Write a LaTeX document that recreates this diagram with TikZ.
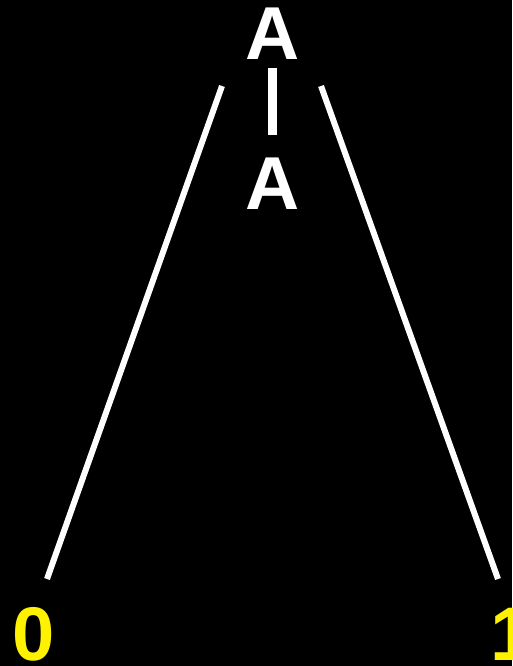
\documentclass[tikz,border=0pt]{standalone}
\usepackage{fontspec}
\setmainfont{Liberation Sans}
\begin{document}
\begin{tikzpicture}[x=1pt,y=-1pt,
  letter/.style={text=white,font=\fontsize{75}{75}\selectfont\bfseries,inner sep=0pt},
  digit/.style={text=yellow,font=\fontsize{76}{76}\selectfont\bfseries,inner sep=0pt},
  edge/.style={draw=white,line width=6pt},
  bar/.style={draw=white,line width=9pt}]
\fill[black] (0,0) rectangle (512,666);
\useasboundingbox (0,0) rectangle (512,666);
\node[letter] (a1) at (273,34) {A};
\node[letter] (a2) at (273,183.5) {A};
\node[digit] (l0) at (34,634.5) {0};
\node[digit,anchor=west] (l1) at (490,634.5) {1};
\coordinate (lt) at (222,86);
\coordinate (lb) at (47,579);
\coordinate (rt) at (321,86);
\coordinate (rb) at (498,579);
\coordinate (bt) at (272.5,68);
\coordinate (bb) at (272.5,135);
\draw[bar] (bt) -- (bb);
\draw[edge] (lt) -- (lb);
\draw[edge] (rt) -- (rb);
\end{tikzpicture}
\end{document}
